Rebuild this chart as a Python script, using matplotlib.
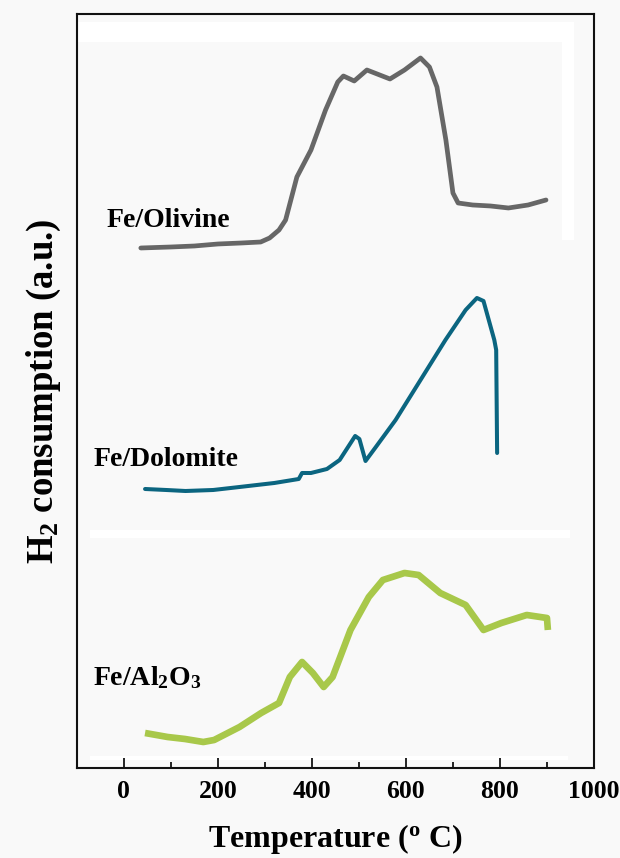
import matplotlib
matplotlib.use("Agg")
import matplotlib.pyplot as plt
from matplotlib.patches import Rectangle

plt.rcParams['font.family'] = ['Liberation Serif', 'DejaVu Serif']
plt.rcParams['font.weight'] = 'bold'
plt.rcParams['mathtext.fontset'] = 'custom'
plt.rcParams['mathtext.bf'] = 'Liberation Serif:bold'
plt.rcParams['mathtext.rm'] = 'Liberation Serif:bold'
plt.rcParams['mathtext.default'] = 'bf'

# ---- data (temperature in deg C, signal in arbitrary units) ----
olivine_T = [36, 100, 150, 200, 250, 291, 310, 330, 344, 368, 398, 429, 455, 467,
             490, 517, 566, 597, 631, 650, 666, 685, 700, 711, 742, 780, 818, 860, 898]
olivine_y = [520, 521, 522, 524, 525, 526, 530, 538, 548, 591, 618, 658, 686, 692,
             687, 698, 689, 698, 710, 701, 681, 628, 575, 565, 563, 562, 560, 563, 568]

dolomite_T = [45, 90, 131, 190, 246, 320, 372, 379, 398, 432, 459, 492, 501, 514,
              536, 578, 635, 684, 727, 751, 765, 788, 792, 794]
dolomite_y = [279, 278, 277, 278, 281, 285, 289, 295, 295, 299, 308, 332, 329, 307,
              321, 348, 391, 428, 458, 470, 467, 428, 418, 315]

alumina_T = [45, 93, 130, 169, 192, 246, 292, 330, 353, 379, 402, 425, 444, 482,
             521, 551, 597, 627, 673, 727, 765, 803, 857, 900, 902]
alumina_y = [35, 31, 29, 26, 28, 41, 55, 65, 91, 106, 95, 81, 91, 138,
             171, 188, 195, 193, 175, 163, 138, 145, 153, 150, 138]

labels = ['Fe/Olivine', 'Fe/Dolomite', 'Fe/Al$_2$O$_3$']
colors = ['#676767', '#0b6580', '#a8c84a']
x_ticks = [0, 200, 400, 600, 800, 1000]
x_minor = [100, 300, 500, 700, 900]

fig = plt.figure(figsize=(6.2, 8.58), dpi=100, facecolor='#f9f9f9')
ax = fig.add_axes([0.124, 0.1049, 0.834, 0.8788])
ax.set_facecolor('#f9f9f9')

# white paste-strips of the original composite
for (x0, y0, w, h) in [(0.0, 0.963, 0.961, 0.026), (0.938, 0.700, 0.023, 0.289),
                       (0.025, 0.305, 0.928, 0.011), (0.025, 0.011, 0.925, 0.005)]:
    ax.add_patch(Rectangle((x0, y0), w, h, transform=ax.transAxes,
                           facecolor='white', edgecolor='none', zorder=0))

ax.plot(olivine_T, olivine_y, color=colors[0], lw=3.4,
        solid_joinstyle='round', solid_capstyle='round', zorder=3)
ax.plot(dolomite_T, dolomite_y, color=colors[1], lw=2.9,
        solid_joinstyle='round', solid_capstyle='round', zorder=3)
ax.plot(alumina_T, alumina_y, color=colors[2], lw=4.8,
        solid_joinstyle='round', solid_capstyle='butt', zorder=3)

ax.text(0.058, 0.7175, labels[0], transform=ax.transAxes, fontsize=20,
        fontweight='bold', va='baseline', ha='left')
ax.text(0.033, 0.4005, labels[1], transform=ax.transAxes, fontsize=20,
        fontweight='bold', va='baseline', ha='left')
ax.text(0.031, 0.110, labels[2], transform=ax.transAxes, fontsize=20,
        fontweight='bold', va='baseline', ha='left')

ax.set_xlim(-100, 1000)
ax.set_ylim(0, 754)
ax.set_xticks(x_ticks)
ax.set_xticklabels([str(t) for t in x_ticks], fontsize=18.5, fontweight='bold')
ax.set_xticks(x_minor, minor=True)
ax.tick_params(axis='x', which='major', direction='in', length=7, width=1.2, pad=9)
ax.tick_params(axis='x', which='minor', direction='in', length=4, width=1.2)
ax.set_yticks([])
for s in ax.spines.values():
    s.set_linewidth(1.5)
    s.set_color('#111111')

ax.set_xlabel('Temperature ($^o$ C)', fontsize=23, fontweight='bold', labelpad=13)
ax.set_ylabel('H$_2$ consumption (a.u.)', fontsize=26.5, fontweight='bold', labelpad=10)

fig.savefig('out.png', dpi=100, facecolor=fig.get_facecolor())
